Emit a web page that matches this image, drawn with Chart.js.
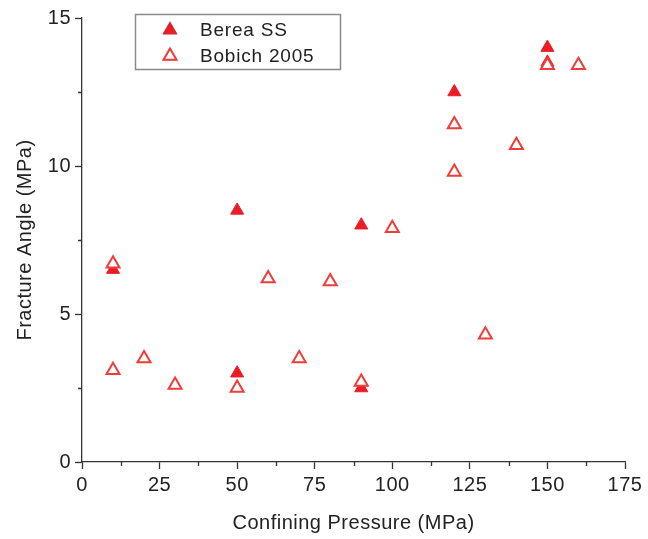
<!DOCTYPE html>
<html>
<head>
<meta charset="utf-8">
<script src="https://cdn.jsdelivr.net/npm/chart.js@4.4.1/dist/chart.umd.min.js"></script>
<style>
  html, body { margin: 0; padding: 0; background: #fff; }
  #wrap { position: relative; width: 648px; height: 539px; }
</style>
</head>
<body>
<div id="wrap"><canvas id="chart_fractureAngle"></canvas></div>
<script>
// confining pressure (MPa) vs fracture angle
var bereaPressure = [10, 50, 50, 90, 90, 120, 150, 150];
var bereaAngle    = [6.5, 8.5, 3.0, 8.0, 2.5, 12.5, 14.0, 13.5];

var bobichPressure = [10, 10, 20, 30, 50, 60, 70, 80, 90, 100, 120, 120, 130, 140, 150, 160];
var bobichAngle    = [6.7, 3.1, 3.5, 2.6, 2.5, 6.2, 3.5, 6.1, 2.7, 7.9, 11.4, 9.8, 4.3, 10.7, 13.4, 13.4];

var xTickLabels = ['0', '25', '50', '75', '100', '125', '150', '175'];
var yTickLabels = ['0', '5', '10', '15'];

var seriesNames = ['Berea SS', 'Bobich 2005'];

function toPoints(xs, ys) {
    return xs.map(function (x, i) { return {x: x, y: ys[i]}; });
}

var FONT = 'Liberation Sans, Arial, sans-serif';
var RED = '#ec1c24';
var RED_OPEN = '#ee3d3a';
var AXIS = '#333333';
var TEXT = '#222222';

function isMajor(value, step) {
    return Math.abs(value / step - Math.round(value / step)) < 1e-6;
}

// slightly wider text spacing for all canvas labels
var spacing = {
    id: 'spacing',
    beforeLayout: function (chart) { chart.ctx.letterSpacing = '0.5px'; },
    beforeDraw: function (chart) { chart.ctx.letterSpacing = '0.5px'; }
};

// short minor ticks between the labelled ones
var minorTicks = {
    id: 'minorTicks',
    afterDraw: function (chart) {
        var ctx = chart.ctx;
        var xs = chart.scales.x, ys = chart.scales.y;
        ctx.save();
        ctx.strokeStyle = AXIS;
        ctx.lineWidth = 1.3;
        ctx.beginPath();
        xs.ticks.forEach(function (t) {
            if (isMajor(t.value, 25)) return;
            var px = Math.round(xs.getPixelForValue(t.value)) + 0.5;
            ctx.moveTo(px, xs.top);
            ctx.lineTo(px, xs.top + 4);
        });
        ys.ticks.forEach(function (t) {
            if (isMajor(t.value, 5)) return;
            var py = Math.round(ys.getPixelForValue(t.value)) + 0.5;
            ctx.moveTo(ys.right, py);
            ctx.lineTo(ys.right - 4, py);
        });
        ctx.stroke();
        ctx.restore();
    }
};

// boxed legend sitting inside the plot area, top left
var boxLegend = {
    id: 'boxLegend',
    afterDraw: function (chart) {
        var ctx = chart.ctx;
        ctx.save();
        ctx.strokeStyle = '#8a8a8a';
        ctx.lineWidth = 1.5;
        ctx.strokeRect(135.5, 14.5, 205, 55);
        ctx.font = '19px ' + FONT;
        ctx.letterSpacing = '0.8px';
        ctx.textBaseline = 'middle';
        chart.data.datasets.forEach(function (ds, i) {
            var cy = 30 + i * 26;
            Chart.helpers.drawPoint(ctx, {
                pointStyle: 'triangle',
                radius: ds.pointRadius,
                borderWidth: ds.pointBorderWidth
            }, 170, cy);
            ctx.fillStyle = ds.pointBackgroundColor;
            ctx.strokeStyle = ds.pointBorderColor;
            ctx.lineWidth = ds.pointBorderWidth;
            ctx.fill();
            ctx.stroke();
            ctx.fillStyle = TEXT;
            ctx.fillText(ds.label, 200, cy + 1);
        });
        ctx.restore();
    }
};

var whiteBg = {
    id: 'whiteBg',
    beforeDraw: function (chart) {
        var ctx = chart.canvas.getContext('2d');
        ctx.save();
        ctx.globalCompositeOperation = 'destination-over';
        ctx.fillStyle = 'white';
        ctx.fillRect(0, 0, chart.canvas.width, chart.canvas.height);
        ctx.restore();
    }
};

var chart_fractureAngle = new Chart(document.getElementById('chart_fractureAngle'), {
    type: 'scatter',
    data: {
        datasets: [
            {
                label: seriesNames[0],
                data: toPoints(bereaPressure, bereaAngle),
                pointStyle: 'triangle',
                pointRadius: 7.5,
                pointBorderWidth: 1,
                pointBackgroundColor: RED,
                pointBorderColor: RED,
                order: 2
            },
            {
                label: seriesNames[1],
                data: toPoints(bobichPressure, bobichAngle),
                pointStyle: 'triangle',
                pointRadius: 7.5,
                pointBorderWidth: 2,
                pointBackgroundColor: 'white',
                pointBorderColor: RED_OPEN,
                order: 1
            }
        ]
    },
    options: {
        animation: false,
        responsive: true,
        maintainAspectRatio: false,
        layout: {
            padding: {top: 18, right: 23, bottom: 0, left: 0}
        },
        plugins: {
            legend: {display: false},
            tooltip: {enabled: false}
        },
        scales: {
            x: {
                type: 'linear',
                min: 0,
                max: 175,
                title: {
                    display: true,
                    text: 'Confining Pressure (MPa)',
                    color: TEXT,
                    font: {family: FONT, size: 20},
                    padding: {top: 0, bottom: 4}
                },
                grid: {
                    drawOnChartArea: false,
                    drawTicks: true,
                    tickLength: 7,
                    tickWidth: 1.3,
                    tickColor: function (c) {
                        return c.tick && isMajor(c.tick.value, 25) ? AXIS : 'rgba(0,0,0,0)';
                    }
                },
                border: {display: true, color: AXIS, width: 1.3},
                ticks: {
                    stepSize: 12.5,
                    autoSkip: false,
                    maxRotation: 0,
                    padding: 4,
                    color: TEXT,
                    font: {family: FONT, size: 20},
                    callback: function (value) {
                        return isMajor(value, 25) ? xTickLabels[Math.round(value / 25)] : '';
                    }
                },
                afterFit: function (scale) { scale.height = 77; }
            },
            y: {
                type: 'linear',
                min: 0,
                max: 15,
                title: {
                    display: true,
                    text: 'Fracture Angle (MPa)',
                    color: TEXT,
                    font: {family: FONT, size: 20},
                    padding: {top: 13, bottom: 0}
                },
                grid: {
                    drawOnChartArea: false,
                    drawTicks: true,
                    tickLength: 7,
                    tickWidth: 1.3,
                    tickColor: function (c) {
                        return c.tick && isMajor(c.tick.value, 5) ? AXIS : 'rgba(0,0,0,0)';
                    }
                },
                border: {display: true, color: AXIS, width: 1.3},
                ticks: {
                    stepSize: 2.5,
                    autoSkip: false,
                    padding: 4,
                    color: TEXT,
                    font: {family: FONT, size: 20},
                    callback: function (value) {
                        return isMajor(value, 5) ? yTickLabels[Math.round(value / 5)] : '';
                    }
                },
                afterFit: function (scale) { scale.width = 82; }
            }
        }
    },
    plugins: [whiteBg, spacing, minorTicks, boxLegend]
});
</script>
</body>
</html>
